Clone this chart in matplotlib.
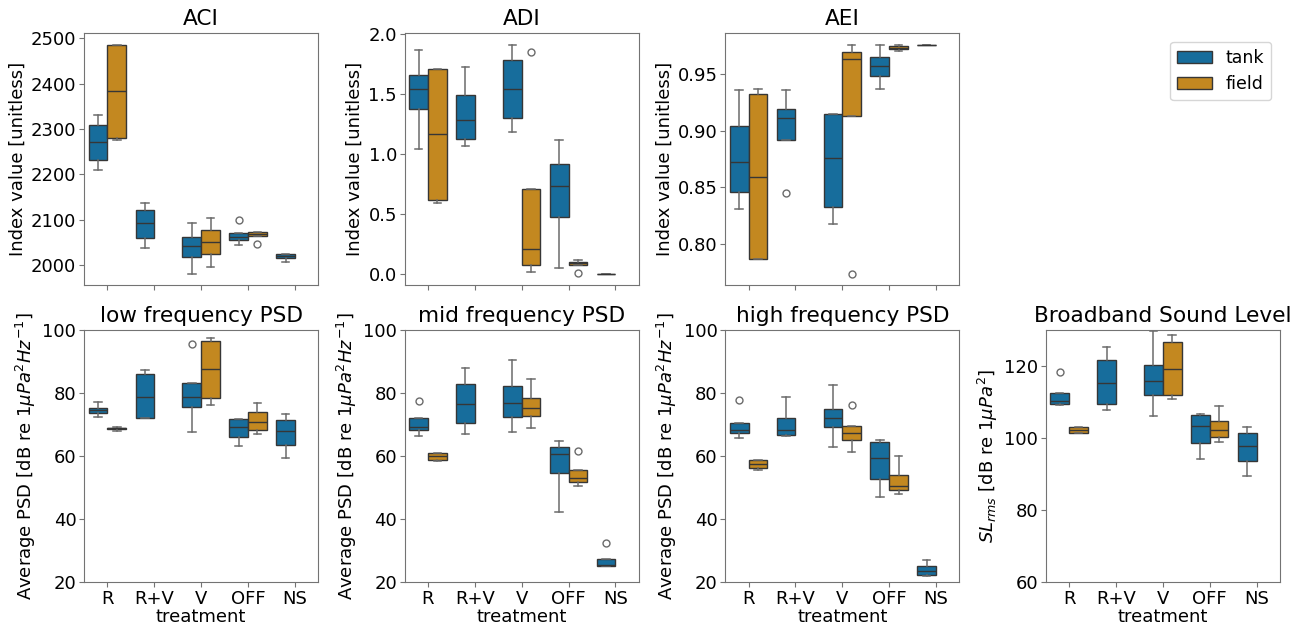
import colorsys
import matplotlib
matplotlib.use("Agg")
import matplotlib.pyplot as plt
from matplotlib.patches import Patch
from matplotlib.ticker import MultipleLocator
import seaborn as sns

treatments = ["R", "R+V", "V", "OFF", "NS"]
groups = ["tank", "field"]

# five-number summaries per treatment: [whisker low, Q1, median, Q3, whisker high]
# None = no recordings for that group
aci_tank = [[2210, 2232, 2271, 2308, 2332], [2038, 2061, 2094, 2121, 2138],
            [1982, 2019, 2042, 2062, 2093], [2045, 2056, 2062, 2072, 2072],
            [2008, 2017, 2021, 2025, 2026]]
aci_field = [[2276, 2281, 2384, 2486, 2486], None,
             [1996, 2024, 2051, 2077, 2104], [2065, 2065, 2070, 2073, 2074], None]
aci_tank_out = [[], [], [], [2100], []]
aci_field_out = [[], [], [], [2048], []]

adi_tank = [[1.042, 1.374, 1.535, 1.656, 1.864], [1.064, 1.119, 1.277, 1.493, 1.723],
            [1.183, 1.294, 1.535, 1.781, 1.909], [0.044, 0.476, 0.731, 0.911, 1.116],
            [0.002, 0.002, 0.002, 0.002, 0.002]]
adi_field = [[0.593, 0.615, 1.161, 1.704, 1.704], None,
             [0.011, 0.069, 0.210, 0.709, 0.709], [0.072, 0.074, 0.090, 0.102, 0.114], None]
adi_tank_out = [[], [], [], [], []]
adi_field_out = [[], [], [1.845], [0.006], []]

aei_tank = [[0.831, 0.846, 0.872, 0.904, 0.936], [0.892, 0.892, 0.911, 0.919, 0.936],
            [0.818, 0.833, 0.876, 0.9145, 0.915], [0.9365, 0.9482, 0.9567, 0.9649, 0.9752],
            [0.9758, 0.9758, 0.9758, 0.9758, 0.9758]]
aei_field = [[0.787, 0.787, 0.859, 0.932, 0.937], None,
             [0.9125, 0.9125, 0.963, 0.969, 0.9755], [0.970, 0.9717, 0.9732, 0.9743, 0.9755], None]
aei_tank_out = [[], [0.845], [], [], []]
aei_field_out = [[], [], [0.774], [], []]

low_tank = [[72.5, 73.6, 74.6, 75.3, 77.2], [71.9, 72.0, 78.8, 86.0, 87.4],
            [67.5, 75.4, 78.6, 83.3, 83.3], [63.3, 66.1, 69.2, 71.6, 71.6],
            [59.4, 63.5, 67.9, 71.3, 73.3]]
low_field = [[67.9, 68.6, 68.8, 69.0, 69.1], None,
             [76.2, 78.4, 87.6, 96.4, 97.6], [66.9, 68.1, 70.8, 74.1, 76.9], None]
low_tank_out = [[], [], [95.7], [], []]
low_field_out = [[], [], [], [], []]

mid_tank = [[66.4, 68.3, 69.3, 71.9, 71.9], [67.0, 70.4, 76.6, 82.8, 87.8],
            [67.6, 72.5, 76.8, 82.1, 90.5], [42.3, 54.5, 60.5, 62.8, 64.7],
            [25.0, 25.0, 25.4, 27.2, 27.2]]
mid_field = [[58.4, 58.8, 60.1, 60.9, 60.9], None,
             [69.0, 72.8, 75.1, 78.4, 84.5], [50.4, 51.8, 53.1, 55.6, 55.6], None]
mid_tank_out = [[77.5], [], [], [], [32.4]]
mid_field_out = [[], [], [], [61.7], []]

high_tank = [[65.8, 67.2, 68.2, 70.6, 70.6], [66.4, 66.5, 68.2, 72.0, 78.6],
             [63.0, 69.3, 71.9, 74.9, 82.5], [47.0, 52.7, 59.4, 64.3, 65.2],
             [21.8, 22.1, 23.4, 25.1, 27.1]]
high_field = [[55.6, 56.3, 57.4, 58.6, 58.6], None,
              [61.3, 65.2, 67.2, 69.4, 69.4], [47.8, 49.2, 50.6, 54.0, 60.1], None]
high_tank_out = [[77.7], [], [], [], []]
high_field_out = [[], [], [76.1], [], []]

sl_tank = [[109.1, 109.5, 110.4, 112.6, 112.6], [107.9, 109.4, 115.3, 121.6, 125.2],
           [106.0, 112.0, 115.7, 120.2, 129.8], [94.1, 98.6, 103.4, 106.5, 106.6],
           [89.4, 93.5, 97.8, 101.3, 103.1]]
sl_field = [[101.4, 101.5, 102.2, 103.0, 103.0], None,
            [110.9, 112.0, 119.3, 126.6, 128.5], [98.8, 100.3, 102.2, 104.8, 108.8], None]
sl_tank_out = [[118.4], [], [], [], []]
sl_field_out = [[], [], [], [], []]

# ── colours (seaborn colorblind, boxplot saturation) ──────────
base = sns.color_palette("colorblind", 2)
face = {"tank": sns.desaturate(base[0], 0.75), "field": sns.desaturate(base[1], 0.75)}
lum = min(colorsys.rgb_to_hls(*c)[1] for c in base) * 0.6
line_col = (lum, lum, lum)
whisk_col = "0.42"
frame_col = "0.45"

plt.rcParams["font.family"] = "DejaVu Sans"
plt.rcParams["font.size"] = 13
fig, axes = plt.subplots(2, 4, figsize=(13.08, 6.25), dpi=100)
fig.subplots_adjust(left=0.0642, right=0.9786, top=0.947, bottom=0.069,
                    wspace=0.3675, hspace=0.179)

psd_label = r"Average PSD [dB re 1$\mu Pa^2Hz^{-1}$]"
panels = [
    (axes[0, 0], "ACI", "Index value [unitless]", aci_tank, aci_field, aci_tank_out, aci_field_out, None, 100),
    (axes[0, 1], "ADI", "Index value [unitless]", adi_tank, adi_field, adi_tank_out, adi_field_out, None, 0.5),
    (axes[0, 2], "AEI", "Index value [unitless]", aei_tank, aei_field, aei_tank_out, aei_field_out, None, 0.05),
    (axes[1, 0], "low frequency PSD", psd_label, low_tank, low_field, low_tank_out, low_field_out, (20, 100), 20),
    (axes[1, 1], "mid frequency PSD", psd_label, mid_tank, mid_field, mid_tank_out, mid_field_out, (20, 100), 20),
    (axes[1, 2], "high frequency PSD", psd_label, high_tank, high_field, high_tank_out, high_field_out, (20, 100), 20),
    (axes[1, 3], "Broadband Sound Level", r"$SL_{rms}$ [dB re 1$\mu Pa^2$]",
     sl_tank, sl_field, sl_tank_out, sl_field_out, (60, 130), 20),
]

for ax, title, ylabel, tank, field, tank_out, field_out, ylim, step in panels:
    for grp, summ, outs, off in [("tank", tank, tank_out, -0.2), ("field", field, field_out, 0.2)]:
        stats, pos = [], []
        for i, (s, o) in enumerate(zip(summ, outs)):
            if s is None:
                continue
            stats.append(dict(whislo=s[0], q1=s[1], med=s[2], q3=s[3], whishi=s[4], fliers=o))
            pos.append(i + off)
        ax.bxp(stats, positions=pos, widths=0.4, capwidths=0.16, patch_artist=True,
               manage_ticks=False,
               boxprops=dict(facecolor=face[grp], edgecolor=line_col, linewidth=1),
               whiskerprops=dict(color=whisk_col, linewidth=1.1),
               capprops=dict(color=whisk_col, linewidth=1.1),
               medianprops=dict(color=line_col, linewidth=1),
               flierprops=dict(marker="o", markersize=5, markerfacecolor="none",
                               markeredgecolor=whisk_col, markeredgewidth=1))
    ax.set_xlim(-0.5, len(treatments) - 0.5)
    ax.set_xticks(range(len(treatments)))
    ax.yaxis.set_major_locator(MultipleLocator(step))
    if ylim is not None:
        ax.set_ylim(*ylim)
    ax.set_title(title, fontsize=15.6)
    ax.set_ylabel(ylabel, fontsize=13, labelpad=3)
    ax.tick_params(labelsize=13, pad=2, color=frame_col)
    for sp in ax.spines.values():
        sp.set_color(frame_col)

for ax in axes[0, :3]:
    ax.set_xticklabels([])
for ax in axes[1, :]:
    ax.set_xticklabels(treatments)
    ax.set_xlabel("treatment", fontsize=13, labelpad=0)

axes[0, 3].axis("off")
handles = [Patch(facecolor=face[g], edgecolor=line_col, label=g) for g in groups]
axes[0, 3].legend(handles=handles, loc="upper right", fontsize=12.5)

plt.savefig("out.png", dpi=100)
